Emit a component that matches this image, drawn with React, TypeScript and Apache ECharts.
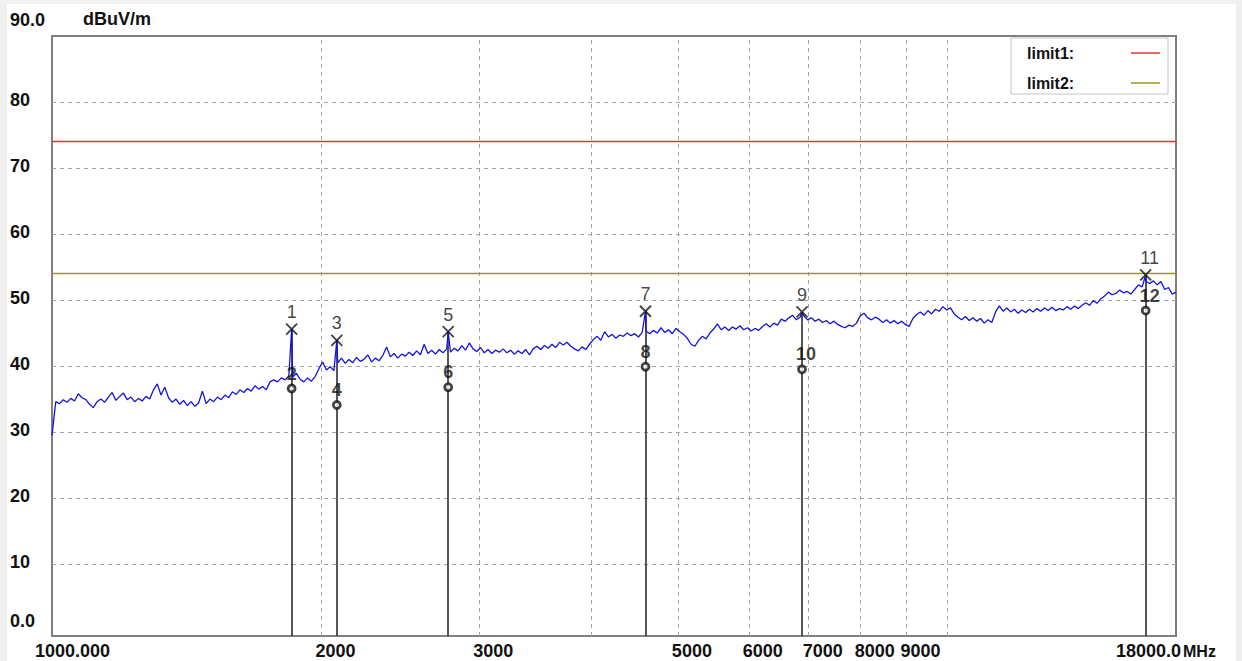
import React, { useEffect, useRef } from 'react';
import * as echarts from 'echarts';

// ---------- axis ranges ----------
const X_MIN = 1000;
const X_MAX = 18000;
const Y_MIN = -0.9;
const Y_MAX = 90;

// ---------- grid / tick definitions ----------
const xGridValues = [2000, 3000, 4000, 5000, 6000, 7000, 8000, 9000, 10000];
const yGridValues = [10, 20, 30, 40, 50, 60, 70, 80];
const xTickValues = [1000, 2000, 3000, 5000, 6000, 7000, 8000, 9000, 18000];
const xTickLabels = ['1000.000', '2000', '3000', '5000', '6000', '7000', '8000', '9000', '18000.0'];
const xUnit = 'MHz';
const yTickValues = [0, 10, 20, 30, 40, 50, 60, 70, 80, 90];
const yTickLabels = ['0.0', '10', '20', '30', '40', '50', '60', '70', '80', '90.0'];
const yUnit = 'dBuV/m';

// ---------- limits ----------
const limitNames = ['limit1:', 'limit2:'];
const limitLevels = [74, 54];
const limitColors = ['#e8322c', '#9a9a1e'];

// ---------- measured trace (sweep levels, dBuV/m, log-spaced sweep 1-18 GHz) ----------
const sweepLevels = [
  29.5, 34.6, 34.3, 34.9, 34.5, 35.1, 34.7, 35.8, 35.2, 34.9, 34.2, 33.7, 34.6, 35.0, 34.5, 35.3, 36.0, 34.8, 35.4, 35.9,
  34.9, 35.3, 34.6, 35.1, 34.7, 35.4, 35.0, 36.4, 37.3, 35.6, 36.8, 35.2, 34.5, 35.0, 34.2, 34.8, 34.0, 34.6, 33.9, 34.4,
  36.2, 34.3, 35.0, 34.6, 35.3, 34.9, 35.6, 35.2, 36.1, 35.7, 36.4, 36.0, 36.6, 36.2, 37.0, 36.5, 36.9, 36.4, 37.6, 37.9,
  37.6, 38.2, 37.9, 38.5, 38.3, 38.9, 38.0, 37.6, 38.2, 37.7, 38.4, 39.6, 40.6, 39.4, 39.9, 39.3, 40.5, 41.2, 40.4, 41.0,
  40.5, 41.3, 40.7, 41.0, 41.7, 40.6, 41.2, 40.8, 41.6, 42.9, 41.4, 41.9, 41.2, 41.8, 41.5, 42.1, 41.6, 42.3, 41.7, 43.3,
  41.9, 42.4, 41.8, 42.5, 42.0, 42.6, 42.1, 42.7, 42.3, 43.1, 42.4, 43.5, 42.6, 42.2, 42.8, 42.0, 42.5, 41.9, 42.4, 42.1,
  42.6, 42.0, 42.4, 41.8, 42.3, 41.9, 42.5, 41.7, 42.6, 43.0, 42.5, 43.1, 42.7, 43.3, 42.8, 43.6, 43.2, 43.6, 43.0, 42.6,
  42.3, 42.9, 42.5, 43.3, 44.0, 44.5, 43.9, 45.2, 44.4, 44.8, 44.2, 44.7, 44.5, 45.0, 44.6, 44.9, 44.4, 45.1, 45.3, 44.9,
  45.4, 45.0, 45.8, 45.1, 45.5, 44.9, 45.7, 45.2, 44.8, 44.2, 43.3, 43.0, 43.9, 44.5, 44.1, 45.0, 45.6, 46.4, 45.5, 45.9,
  45.4, 45.9, 45.6, 46.1, 45.5, 45.8, 45.3, 45.7, 45.4, 46.0, 46.4, 45.9, 46.5, 46.2, 47.1, 46.8, 47.3, 47.7, 47.0, 47.4,
  47.6, 47.0, 47.3, 46.8, 47.1, 46.6, 46.9, 46.4, 46.8, 46.3, 46.0, 45.8, 46.2, 46.0, 46.5, 47.6, 48.0, 47.3, 47.0, 47.4,
  47.1, 46.6, 47.0, 46.5, 46.9, 46.4, 46.8, 46.3, 46.0, 47.2, 47.8, 48.2, 47.7, 48.4, 47.9, 48.6, 48.3, 49.0, 48.5, 48.8,
  47.9, 47.4, 47.0, 47.5, 46.9, 47.3, 46.8, 47.2, 46.5, 47.0, 46.6, 48.2, 49.1, 48.3, 48.8, 48.2, 48.6, 48.0, 48.5, 48.1,
  48.6, 48.2, 48.7, 48.3, 48.8, 48.4, 48.9, 48.4, 48.7, 48.5, 49.0, 48.6, 49.1, 48.7, 49.2, 49.6, 49.2, 49.9, 49.5, 50.2,
  50.6, 51.2, 50.8, 51.0, 51.5, 51.1, 51.3, 50.9, 51.6, 52.3, 52.0, 52.8, 52.5, 52.9, 52.3, 52.8, 51.6, 51.9, 50.9, 51.2,
];

// ---------- markers ----------
const markerFreqs = [1852, 2080, 2770, 4600, 6880, 16650];
const peakLevels = [45.6, 43.9, 45.2, 48.3, 48.2, 53.8];
const peakLabels = ['1', '3', '5', '7', '9', '11'];
const avgLevels = [36.6, 34.1, 36.8, 39.9, 39.5, 48.4];
const avgLabels = ['2', '4', '6', '8', '10', '12'];

const FONT = '"Liberation Sans", Arial, Helvetica, sans-serif';

export default function App() {
  const ref = useRef<HTMLDivElement>(null);

  useEffect(() => {
    const el = ref.current;
    if (!el) return;
    const chart = echarts.init(el, null, { renderer: 'svg' });

    // sweep grid (log spaced between axis limits)
    const n = sweepLevels.length;
    const sweepFreqs = sweepLevels.map((_, i) => X_MIN * Math.pow(X_MAX / X_MIN, i / (n - 1)));
    const trace: [number, number][] = sweepLevels.map((v, i) => [sweepFreqs[i], v]);
    markerFreqs.forEach((f, k) => trace.push([f, peakLevels[k]]));
    trace.sort((a, b) => a[0] - b[0]);

    const twoDigitOffset = (s: string) => (s.length > 1 ? [4, 0] : [0, 0]);

    chart.setOption({
      animation: false,
      backgroundColor: '#ffffff',
      grid: {
        left: 52,
        right: 66,
        top: 36,
        bottom: 25,
        show: true,
        borderColor: '#808080',
        borderWidth: 2,
        backgroundColor: '#ffffff',
      },
      xAxis: {
        type: 'log',
        logBase: 10,
        min: X_MIN,
        max: X_MAX,
        axisLine: { show: false },
        axisTick: { show: false },
        axisLabel: { show: false },
        splitLine: { show: false },
      },
      yAxis: {
        type: 'value',
        min: Y_MIN,
        max: Y_MAX,
        axisLine: { show: false },
        axisTick: { show: false },
        axisLabel: { show: false },
        splitLine: { show: false },
      },
      series: [
        {
          name: limitNames[0],
          type: 'line',
          z: 4,
          silent: true,
          symbol: 'none',
          data: [[X_MIN, limitLevels[0]], [X_MAX, limitLevels[0]]],
          lineStyle: { color: limitColors[0], width: 1.5 },
          markLine: {
            silent: true,
            z: 1,
            symbol: ['none', 'none'],
            label: { show: false },
            lineStyle: { type: [4, 4], color: '#a3a3a3', width: 1 },
            data: [
              ...xGridValues.map((v) => ({ xAxis: v })),
              ...yGridValues.map((v) => ({ yAxis: v })),
            ],
          },
        },
        {
          name: limitNames[1],
          type: 'line',
          z: 4,
          silent: true,
          symbol: 'none',
          data: [[X_MIN, limitLevels[1]], [X_MAX, limitLevels[1]]],
          lineStyle: { color: limitColors[1], width: 1.5 },
          markLine: {
            silent: true,
            z: 2,
            symbol: ['none', 'none'],
            label: { show: false },
            lineStyle: { type: 'solid', color: '#2e2e2e', width: 1.6 },
            data: markerFreqs.map((f, k) => [
              { coord: [f, peakLevels[k]] },
              { coord: [f, Y_MIN] },
            ]),
          },
        },
        {
          name: 'trace',
          type: 'line',
          z: 5,
          silent: true,
          symbol: 'none',
          data: trace,
          lineStyle: { color: '#1414e0', width: 1.3 },
        },
        {
          name: 'peak',
          type: 'scatter',
          z: 6,
          silent: true,
          symbol: 'path://M0,0L10,10M10,0L0,10',
          symbolSize: 11,
          itemStyle: { color: 'none', borderColor: '#111111', borderWidth: 1.8 },
          label: {
            show: true,
            position: 'top',
            distance: 0,
            formatter: '{b}',
            color: '#111111',
            fontFamily: FONT,
            fontSize: 18,
          },
          data: markerFreqs.map((f, k) => ({
            name: peakLabels[k],
            value: [f, peakLevels[k]],
            label: { offset: twoDigitOffset(peakLabels[k]) },
          })),
        },
        {
          name: 'avg',
          type: 'scatter',
          z: 6,
          silent: true,
          symbol: 'circle',
          symbolSize: 7,
          itemStyle: { color: '#ffffff', borderColor: '#111111', borderWidth: 2.8 },
          label: {
            show: true,
            position: 'top',
            distance: 1,
            formatter: '{b}',
            color: '#111111',
            fontFamily: FONT,
            fontSize: 18,
            fontWeight: 'bold',
          },
          data: markerFreqs.map((f, k) => ({
            name: avgLabels[k],
            value: [f, avgLevels[k]],
            label: { offset: twoDigitOffset(avgLabels[k]) },
          })),
        },
      ],
    });

    // ---- texts positioned through the chart's own scales ----
    const px = (v: number) => chart.convertToPixel({ xAxisIndex: 0 }, v) as number;
    const py = (v: number) => chart.convertToPixel({ yAxisIndex: 0 }, v) as number;
    const axisFont = { fontFamily: FONT, fontSize: 18, fontWeight: 'bold' as const, fill: '#111111' };

    const yLabelTexts = yTickValues.map((v, i) => {
      const dy = v === Y_MAX ? -16 : v === 0 ? -9 : -2;
      return {
        type: 'text',
        x: 10,
        y: py(v) + dy,
        silent: true,
        style: { text: yTickLabels[i], ...axisFont, textAlign: 'left', textVerticalAlign: 'middle' },
      };
    });

    const lastIdx = xTickValues.length - 1;
    const xLabelTexts = xTickValues.map((v, i) => {
      const isFirst = i === 0;
      const isLast = i === lastIdx;
      const x = isFirst ? px(v) - 17 : isLast ? px(v) + 5 : px(v) - 6;
      return {
        type: 'text',
        x,
        y: 651,
        silent: true,
        style: {
          text: xTickLabels[i],
          ...axisFont,
          textAlign: isLast ? 'right' : 'left',
          textVerticalAlign: 'middle',
        },
      };
    });

    const legendX = 1011;
    const legendY = 38;
    const legendItems = limitNames.flatMap((nm, i) => {
      const cy = legendY + 15 + i * 30;
      return [
        {
          type: 'text',
          x: legendX + 16,
          y: cy,
          silent: true,
          style: {
            text: nm,
            fontFamily: FONT,
            fontSize: 16,
            fontWeight: 'bold',
            fill: '#111111',
            textAlign: 'left',
            textVerticalAlign: 'middle',
          },
        },
        {
          type: 'line',
          silent: true,
          shape: { x1: legendX + 120, y1: cy, x2: legendX + 149, y2: cy },
          style: { stroke: limitColors[i], lineWidth: 1.5 },
        },
      ];
    });

    chart.setOption({
      graphic: [
        { type: 'rect', silent: true, shape: { x: 0, y: 0, width: 7, height: 661 }, style: { fill: '#efefef' } },
        { type: 'rect', silent: true, shape: { x: 0, y: 0, width: 1242, height: 4 }, style: { fill: '#f2f2f2' } },
        { type: 'rect', silent: true, shape: { x: 1236, y: 0, width: 6, height: 661 }, style: { fill: '#efefef' } },
        {
          type: 'text',
          x: 83,
          y: 19,
          silent: true,
          style: { text: yUnit, ...axisFont, textAlign: 'left', textVerticalAlign: 'middle' },
        },
        ...yLabelTexts,
        ...xLabelTexts,
        {
          type: 'text',
          x: px(X_MAX) + 7,
          y: 651,
          silent: true,
          style: { text: xUnit, ...axisFont, fontSize: 16, textAlign: 'left', textVerticalAlign: 'middle' },
        },
        {
          type: 'rect',
          silent: true,
          z: 10,
          shape: { x: legendX, y: legendY, width: 157, height: 56 },
          style: { fill: '#ffffff', stroke: '#c4c4c4', lineWidth: 1 },
        },
        ...legendItems.map((g) => ({ ...g, z: 11 })),
      ],
    });

    return () => {
      chart.dispose();
    };
  }, []);

  return (
    <div
      ref={ref}
      style={{ position: 'absolute', left: 0, top: 0, width: 1242, height: 661, background: '#ffffff' }}
    />
  );
}
